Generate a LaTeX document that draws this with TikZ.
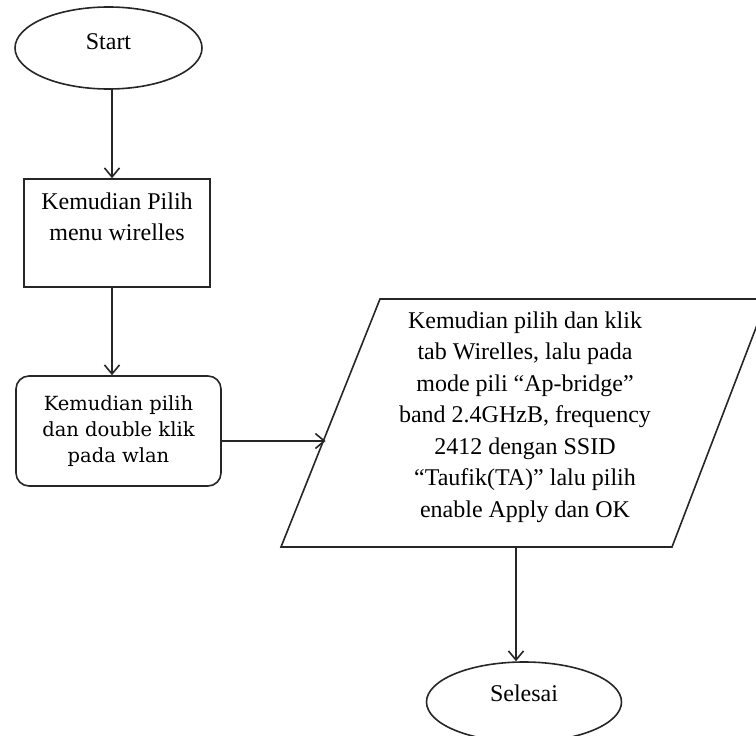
\documentclass[tikz,border=0pt]{standalone}
\usepackage{fontspec}
\setmainfont{Liberation Serif}
\newfontfamily\slabfont{DejaVu Serif}
\usetikzlibrary{shapes.geometric,arrows.meta}
\begin{document}
\begin{tikzpicture}[x=1pt,y=-1pt,
  line/.style={line width=1.6pt, draw=black!85},
  conn/.style={line, -{Straight Barb[length=9pt,width=15pt]}},
  term/.style={ellipse, line, inner sep=0pt, font=\fontsize{24}{28}\selectfont},
  procbox/.style={rectangle, line, minimum width=186pt, minimum height=108pt, align=center, inner sep=0pt, font=\fontsize{24}{31}\selectfont},
  roundbox/.style={rectangle, rounded corners=13pt, line, minimum width=205pt, minimum height=110pt, align=center, inner sep=0pt, font=\slabfont\fontsize{19.5}{26}\selectfont},
  iotext/.style={align=center, inner sep=0pt, font=\fontsize{24}{31.5}\selectfont}
]
\useasboundingbox (0,0) rectangle (756,736);
\clip (0,0) rectangle (756,736);

\node (start) [term, minimum width=187pt, minimum height=82pt, text depth=12pt] at (108.5,48) {Start};
\node (r1) [procbox, text depth=32pt] at (117,233) {Kemudian Pilih\\menu wirelles};
\node (r2) [roundbox] at (118.5,431) {Kemudian pilih\\dan double klik\\pada wlan};

\coordinate (pbl) at (281,547);
\coordinate (ptl) at (380,299);
\coordinate (ptr) at (767,299);
\coordinate (pbr) at (672,547);
\draw[line] (pbl) -- (ptl) -- (ptr) -- (pbr) -- cycle;
\node (ptext) [iotext] at (525,417) {Kemudian pilih dan klik\\tab Wirelles, lalu pada\\mode pili “Ap-bridge”\\band 2.4GHzB, frequency\\2412 dengan SSID\\“Taufik(TA)” lalu pilih\\enable Apply dan OK};
\coordinate (pin) at (325.6,441);
\coordinate (pout) at (516,547);

\node (fin) [term, minimum width=195pt, minimum height=80pt, text depth=18pt] at (524,702) {Selesai};

\draw[conn] ([xshift=3.5pt]start.south) -- ([xshift=3.5pt]start.south |- r1.north);
\draw[conn] ([xshift=-5pt]r1.south) -- ([xshift=-5pt]r1.south |- r2.north);
\draw[conn] ([yshift=-10pt]r2.east) -- (pin);
\draw[conn] (pout) -- (pout |- fin.north);
\end{tikzpicture}
\end{document}
